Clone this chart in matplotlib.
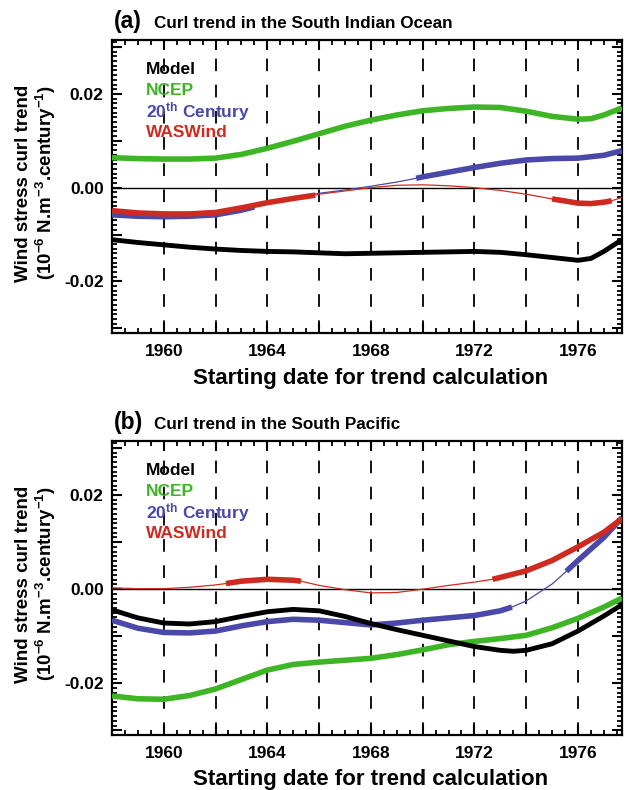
import numpy as np
import matplotlib
matplotlib.use('Agg')
import matplotlib.pyplot as plt
from matplotlib.ticker import MultipleLocator

plt.rcParams['font.family'] = ['Liberation Sans', 'DejaVu Sans']
plt.rcParams['mathtext.fontset'] = 'custom'
plt.rcParams['mathtext.rm'] = 'Liberation Sans:bold'
plt.rcParams['mathtext.bf'] = 'Liberation Sans:bold'
plt.rcParams['mathtext.it'] = 'Liberation Sans:bold'
plt.rcParams['mathtext.default'] = 'bf'

# ---------------------------------------------------------------------------
# data (trend in 1e-6 N m-3 per century)
# ---------------------------------------------------------------------------
years = [1958, 1959, 1960, 1961, 1962, 1963, 1964, 1965, 1966, 1967, 1968,
         1969, 1970, 1971, 1972, 1973, 1974, 1975, 1976, 1977, 1977.7]

# (a) South Indian Ocean
years_a = [1958, 1959, 1960, 1961, 1962, 1963, 1964, 1965, 1966, 1967, 1968,
           1969, 1970, 1971, 1972, 1973, 1974, 1975, 1976, 1976.5, 1977, 1977.7]
model_a = [-0.0111, -0.0117, -0.0122, -0.0127, -0.0131, -0.0134, -0.0136, -0.0137,
           -0.0139, -0.0141, -0.0140, -0.0139, -0.0138, -0.0137, -0.0136, -0.0138,
           -0.0143, -0.0149, -0.0155, -0.0151, -0.0136, -0.0111]
ncep_a = [0.0064, 0.0062, 0.0061, 0.0061, 0.0063, 0.0071, 0.0084, 0.0099, 0.0115,
          0.0131, 0.0144, 0.0155, 0.0164, 0.0169, 0.0172, 0.0171, 0.0163, 0.0152,
          0.0146, 0.0147, 0.0155, 0.0170]
c20_years_a = [1958, 1959, 1960, 1961, 1962, 1963, 1963.5, 1964, 1965, 1966, 1967,
               1968, 1969, 1969.75, 1970, 1971, 1972, 1973, 1974, 1975, 1976, 1977,
               1977.7]
c20_a = [-0.0058, -0.0061, -0.0062, -0.0061, -0.0058, -0.0048, -0.0041, -0.0034,
         -0.0022, -0.0012, -0.0005, 0.0003, 0.0012, 0.0020, 0.0023, 0.0033, 0.0043,
         0.0052, 0.0059, 0.0062, 0.0063, 0.0069, 0.0079]
c20_thick_a = [(1958, 1963.5), (1969.75, 1977.7)]
was_years_a = [1958, 1959, 1960, 1961, 1962, 1963, 1964, 1965, 1965.85, 1966, 1967,
               1968, 1969, 1970, 1971, 1972, 1973, 1974, 1975, 1976, 1976.5, 1977,
               1977.3, 1977.7]
was_a = [-0.0049, -0.0054, -0.0056, -0.0056, -0.0053, -0.0043, -0.0032, -0.0023,
         -0.0016, -0.0014, -0.0007, 0.0000, 0.0005, 0.0006, 0.0004, 0.0000, -0.0006,
         -0.0014, -0.0024, -0.0033, -0.0034, -0.0031, -0.0028, -0.0021]
was_thick_a = [(1958, 1965.85), (1975, 1977.3)]

# (b) South Pacific
model_years_b = [1958, 1959, 1960, 1961, 1962, 1963, 1964, 1965, 1966, 1967, 1968,
                 1969, 1970, 1971, 1972, 1973, 1973.5, 1974, 1975, 1976, 1977,
                 1977.7]
model_b = [-0.0044, -0.0061, -0.0072, -0.0074, -0.0069, -0.0058, -0.0048, -0.0043,
           -0.0046, -0.0058, -0.0073, -0.0086, -0.0098, -0.0110, -0.0122, -0.0130,
           -0.0132, -0.0130, -0.0116, -0.0089, -0.0057, -0.0033]
ncep_b = [-0.0227, -0.0233, -0.0234, -0.0226, -0.0212, -0.0192, -0.0172, -0.0160,
          -0.0155, -0.0151, -0.0147, -0.0139, -0.0129, -0.0118, -0.0111, -0.0105,
          -0.0098, -0.0082, -0.0062, -0.0038, -0.0019]
c20_years_b = [1958, 1959, 1960, 1961, 1962, 1963, 1964, 1965, 1966, 1967, 1968,
               1969, 1970, 1971, 1972, 1973, 1973.45, 1974, 1975, 1975.55, 1976,
               1977, 1977.7]
c20_b = [-0.0066, -0.0083, -0.0092, -0.0093, -0.0089, -0.0078, -0.0069, -0.0064,
         -0.0066, -0.0071, -0.0076, -0.0072, -0.0066, -0.0061, -0.0056, -0.0046,
         -0.0038, -0.0025, 0.0011, 0.0038, 0.0061, 0.0110, 0.0152]
c20_thick_b = [(1958, 1973.45), (1975.55, 1977.7)]
was_years_b = [1958, 1959, 1960, 1961, 1962, 1962.4, 1963, 1964, 1965, 1965.3, 1966,
               1967, 1968, 1969, 1970, 1971, 1972, 1972.7, 1973, 1974, 1975, 1976,
               1977, 1977.7]
was_b = [0.0003, 0.0001, 0.0001, 0.0004, 0.0009, 0.0012, 0.0017, 0.0021, 0.0019,
         0.0017, 0.0008, -0.0001, -0.0008, -0.0007, 0.0000, 0.0008, 0.0015, 0.0021,
         0.0025, 0.0039, 0.0061, 0.0090, 0.0121, 0.0150]
was_thick_b = [(1962.4, 1965.3), (1972.7, 1977.7)]

legend_names = ['Model', 'NCEP', '20$^{th}$ Century', 'WASWind']
titles = ['Curl trend in the South Indian Ocean', 'Curl trend in the South Pacific']
panel_tags = ['(a)', '(b)']
xtick_vals = [1960, 1962, 1964, 1966, 1968, 1970, 1972, 1974, 1976]
xtick_text = ['1960', '', '1964', '', '1968', '', '1972', '', '1976']
ytick_vals = [-0.03, -0.02, -0.01, 0.0, 0.01, 0.02, 0.03]
ytick_text = ['', '-0.02', '', '0.00', '', '0.02', '']

C_MODEL = 'black'
C_NCEP = '#3db524'
C_C20 = '#4a48a8'
C_WAS = '#cf2a1f'
colors = [C_MODEL, C_NCEP, C_C20, C_WAS]

LW_THICK = 4.0
LW_THIN = 0.9


def draw_series(ax, x, y, color, thick, z, lw=LW_THICK):
    x = np.asarray(x)
    y = np.asarray(y)
    ax.plot(x, y, color=color, lw=LW_THIN, zorder=z)
    for a, b in thick:
        m = (x >= a - 1e-9) & (x <= b + 1e-9)
        ax.plot(x[m], y[m], color=color, lw=lw, solid_capstyle='butt',
                solid_joinstyle='round', zorder=z)


def style_axes(ax):
    ax.set_xlim(1958, 1977.7)
    ax.set_ylim(-0.031, 0.0315)
    ax.set_xticks(xtick_vals)
    ax.set_xticklabels(xtick_text, fontweight='bold')
    ax.set_yticks(ytick_vals)
    ax.set_yticklabels(ytick_text, fontweight='bold')
    ax.xaxis.set_minor_locator(MultipleLocator(0.5))
    ax.yaxis.set_minor_locator(MultipleLocator(0.001))
    ax.tick_params(which='both', direction='in', top=True, right=True)
    ax.tick_params(which='major', length=7, width=1.5, labelsize=12.5)
    ax.tick_params(which='minor', length=3.5, width=1.3)
    ax.tick_params(axis='x', pad=8)
    ax.tick_params(axis='y', pad=6)
    for s in ax.spines.values():
        s.set_linewidth(1.6)
    for yr in xtick_vals:
        ax.axvline(yr, color='black', lw=1.3, ls=(0, (7, 7.5)), zorder=1)
    ax.axhline(0, color='black', lw=1.0, zorder=1)
    for i, (name, col) in enumerate(zip(legend_names, colors)):
        ax.text(0.067, 0.90 - i * 0.072, name, transform=ax.transAxes, color=col,
                fontsize=12.5, fontweight='bold', va='center', ha='left')


fig = plt.figure(figsize=(6.25, 7.9), dpi=100)
ax_a = fig.add_axes([0.1792, 0.5785, 0.816, 0.3709])
ax_b = fig.add_axes([0.1792, 0.0696, 0.816, 0.3722])

# panel a
style_axes(ax_a)
draw_series(ax_a, years_a, ncep_a, C_NCEP, [(1958, 1977.7)], 3)
draw_series(ax_a, c20_years_a, c20_a, C_C20, c20_thick_a, 4)
draw_series(ax_a, was_years_a, was_a, C_WAS, was_thick_a, 5)
draw_series(ax_a, years_a, model_a, C_MODEL, [(1958, 1977.7)], 6, lw=3.5)

# panel b
style_axes(ax_b)
draw_series(ax_b, years, ncep_b, C_NCEP, [(1958, 1977.7)], 3)
draw_series(ax_b, c20_years_b, c20_b, C_C20, c20_thick_b, 4)
draw_series(ax_b, was_years_b, was_b, C_WAS, was_thick_b, 5)
draw_series(ax_b, model_years_b, model_b, C_MODEL, [(1958, 1977.7)], 6, lw=3.5)

# titles, axis labels (placed in figure pixels / 790 high)
for k, ax in enumerate([ax_a, ax_b]):
    off = 401 * k
    fig.text(114 / 625, 1 - (28 + off) / 790, panel_tags[k], fontsize=16.5,
             fontweight='bold', va='baseline', ha='left')
    fig.text(154 / 625, 1 - (28 + off) / 790, titles[k], fontsize=12.3,
             fontweight='bold', va='baseline', ha='left')
    fig.text(371 / 625, 1 - (384 + off) / 790, 'Starting date for trend calculation',
             fontsize=16, fontweight='bold', va='baseline', ha='center')
    fig.text(24 / 625, 1 - (183 + off) / 790, 'Wind stress curl trend', fontsize=13.5,
             fontweight='bold', rotation=90, va='center', ha='center')
    fig.text(46 / 625, 1 - (183 + off) / 790,
             '(10$^{-6}$ N.m$^{-3}$.century$^{-1}$)', fontsize=13.5,
             fontweight='bold', rotation=90, va='center', ha='center')

fig.savefig('out.png', dpi=100)
